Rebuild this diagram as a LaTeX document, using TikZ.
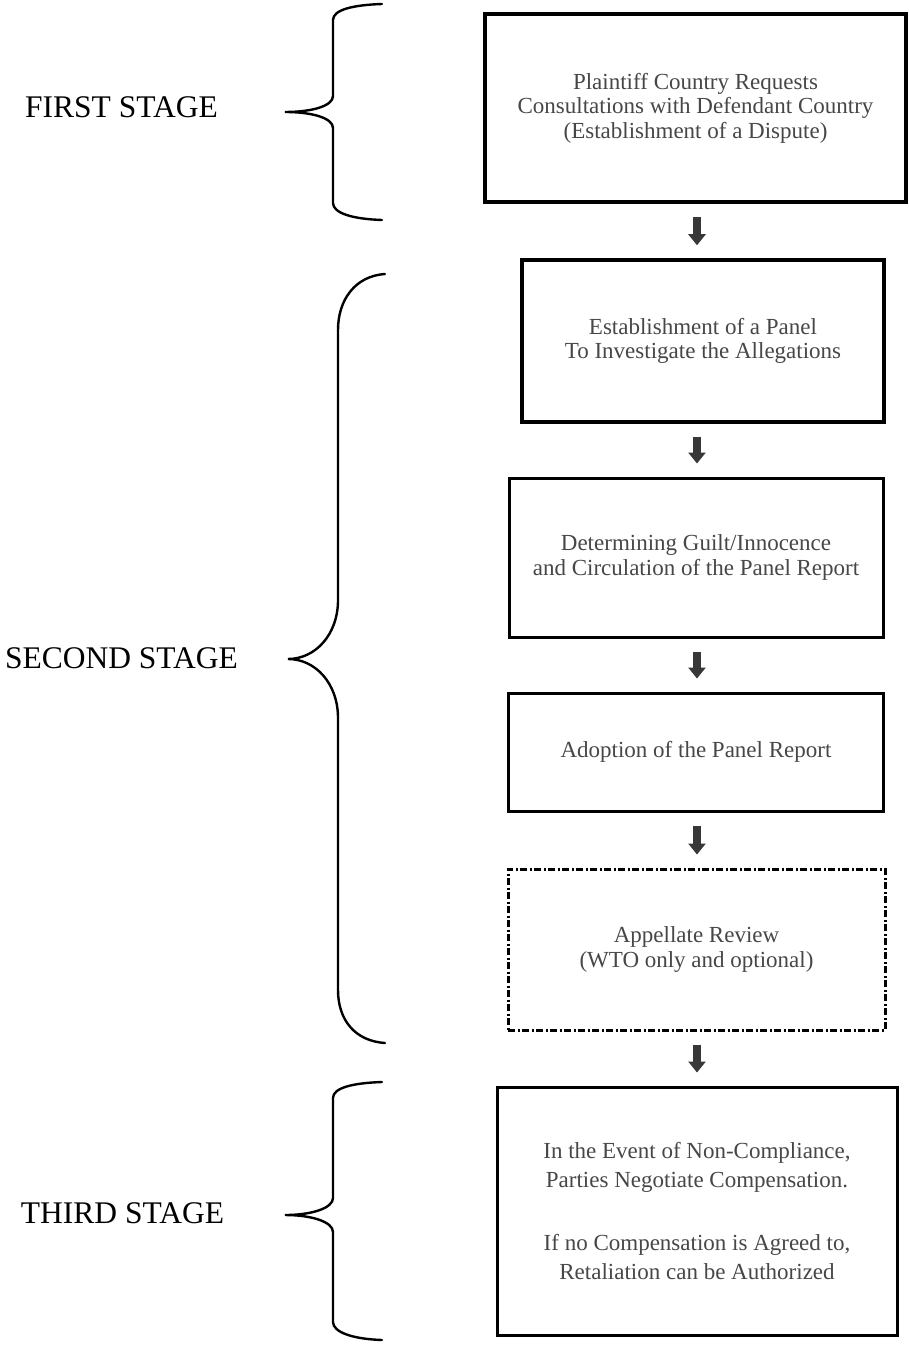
\documentclass[tikz,border=0pt]{standalone}
\usepackage{fontspec}
\setmainfont{Liberation Serif}
\usetikzlibrary{arrows.meta}
\begin{document}
\begin{tikzpicture}[x=1pt,y=-1pt,
  stepbox/.style={draw=black, line width=3pt, align=center, inner sep=0pt,
    text=black!72, font=\fontsize{23}{24.5}\selectfont},
  optbox/.style={stepbox, dash pattern=on 7pt off 2.5pt on 2pt off 2.5pt},
  stagelabel/.style={anchor=base, inner sep=0pt, font=\fontsize{31.5}{34}\selectfont},
  flow/.style={line width=8pt, draw=black!78,
    -{Triangle[width=17pt,length=11pt]}, shorten <=13pt, shorten >=13pt},
  bracepath/.style={line width=2.4pt, line cap=round}]
\useasboundingbox (0,0) rectangle (908,1348);
\fill[white] (0,0) rectangle (908,1348);

% boxes
\node[stepbox, line width=3.8pt, minimum width=421pt, minimum height=188pt] (b1) at (695.5,108)
  {Plaintiff Country Requests\\Consultations with Defendant Country\\(Establishment of a Dispute)};
\node[stepbox, line width=3.5pt, minimum width=362pt, minimum height=162pt] (b2) at (703,341)
  {Establishment of a Panel\\To Investigate the Allegations};
\node[stepbox, minimum width=374pt, minimum height=159pt] (b3) at (696,557.5)
  {Determining Guilt/Innocence\\and Circulation of the Panel Report};
\node[stepbox, minimum width=375pt, minimum height=118pt] (b4) at (696,752)
  {Adoption of the Panel Report};
\node[optbox, minimum width=377pt, minimum height=161pt] (b5) at (696.5,949.5)
  {Appellate Review\\(WTO only and optional)};
\node[stepbox, minimum width=400pt, minimum height=248pt,
  font=\fontsize{23}{29}\selectfont] (b6) at (697,1211)
  {In the Event of Non-Compliance,\\Parties Negotiate Compensation.\\[34pt]If no Compensation is Agreed to,\\Retaliation can be Authorized};

% connectors
\coordinate (ax) at (697,0);
\draw[flow] (b1.south -| ax) -- (b2.north -| ax);
\draw[flow] (b2.south -| ax) -- (b3.north -| ax);
\draw[flow] (b3.south -| ax) -- (b4.north -| ax);
\draw[flow] (b4.south -| ax) -- (b5.north -| ax);
\draw[flow] (b5.south -| ax) -- (b6.north -| ax);

% stage labels
\node[stagelabel] (s1) at (121.5,118) {FIRST STAGE};
\node[stagelabel] (s2) at (121.5,668) {SECOND STAGE};
\node[stagelabel] (s3) at (122.5,1223) {THIRD STAGE};

% braces
\draw[bracepath] (382,4) .. controls (352,5) and (333,10) .. (333,20) -- (333,96)
  .. controls (333,106) and (312,112) .. (285,112)
  .. controls (312,112) and (333,118) .. (333,128) -- (333,203)
  .. controls (333,213) and (352,219) .. (382,220);
\draw[bracepath] (385,274) .. controls (355,276) and (338,300) .. (338,330) -- (338,600)
  .. controls (338,635) and (315,659) .. (288,659)
  .. controls (315,659) and (338,683) .. (338,718) -- (338,990)
  .. controls (338,1020) and (355,1041) .. (385,1043);
\draw[bracepath] (382,1082) .. controls (352,1083) and (333,1088) .. (333,1098) -- (333,1198)
  .. controls (333,1208) and (312,1215) .. (285,1215)
  .. controls (312,1215) and (333,1222) .. (333,1232) -- (333,1322)
  .. controls (333,1332) and (352,1339) .. (382,1340);
\end{tikzpicture}
\end{document}
